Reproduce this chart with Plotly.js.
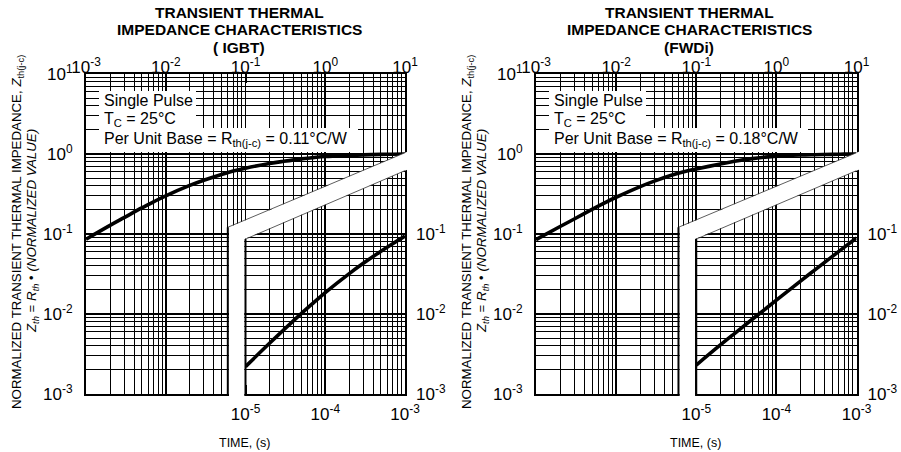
<!DOCTYPE html>
<html>
<head>
<meta charset="utf-8">
<script src="https://cdn.plot.ly/plotly-3.0.1.min.js"></script>
<style>html,body{margin:0;padding:0;background:#fff}#chart{width:901px;height:452px}</style>
</head>
<body>
<div id="chart"></div>
<script>
// ---------------- DATA ----------------
const panelNames = ['IGBT', 'FWDi'];
const titleLines = [
  ['TRANSIENT THERMAL', 'IMPEDANCE CHARACTERISTICS', '( IGBT)'],
  ['TRANSIENT THERMAL', 'IMPEDANCE CHARACTERISTICS', '(FWDi)']
];
const rthText = ['0.11°C/W', '0.18°C/W'];

// main time axis (s) 1e-3 .. 1e1
const timeMain = [1e-3, 2e-3, 3e-3, 5e-3, 7e-3, 1e-2, 2e-2, 3e-2, 5e-2, 7e-2,
                  1e-1, 2e-1, 3e-1, 5e-1, 7e-1, 1, 2, 3, 5, 7, 10];
const zthIGBT = [0.086, 0.128, 0.160, 0.212, 0.252, 0.300, 0.405, 0.470, 0.555, 0.612,
                 0.665, 0.760, 0.810, 0.870, 0.900, 0.930, 0.960, 0.975, 0.988, 0.994, 1.0];
const zthFWDi = [0.085, 0.124, 0.154, 0.203, 0.242, 0.288, 0.392, 0.458, 0.545, 0.600,
                 0.650, 0.750, 0.810, 0.875, 0.910, 0.940, 0.970, 0.980, 0.990, 0.995, 1.0];

// inset time axis (s) 1e-5 .. 1e-3
const timeInset = [1e-5, 2e-5, 3e-5, 5e-5, 7e-5, 1e-4, 2e-4, 3e-4, 5e-4, 7e-4, 1e-3];
const zthIGBTinset = [0.0022, 0.0043, 0.0063, 0.0101, 0.0136, 0.0185, 0.032, 0.043, 0.061, 0.0755, 0.094];
const zthFWDiinset = [0.0023, 0.0041, 0.0057, 0.0086, 0.0112, 0.0149, 0.0258, 0.0354, 0.0525, 0.068, 0.089];

// tick exponents
const mainXExp = [-3, -2, -1, 0, 1];
const mainYExp = [-3, -2, -1, 0, 1];
const insetXExp = [-5, -4, -3];
const insetYExp = [-3, -2, -1];
const minorDigits = [2, 3, 4, 5, 6, 7, 8, 9];

// ---------------- HELPERS ----------------
const W = 901, H = 452;
const fx = p => p / W;
const fy = p => 1 - p / H;
const decVals = e => e.map(v => Math.pow(10, v));
const decText = e => e.map(v => '10<sup>' + v + '</sup>');
const minorVals = e => {
  const out = [];
  for (let i = 0; i < e.length - 1; i++) minorDigits.forEach(d => out.push(d * Math.pow(10, e[i])));
  return out;
};

const FONT = 'Liberation Sans, Arial, Helvetica, sans-serif';
const plotLeft = [86, 536], plotRight = [405, 856.5], plotTop = 74, plotBottom = 394;

const data = [];
const layout = {
  width: W, height: H,
  margin: {l: 0, r: 0, t: 0, b: 0},
  paper_bgcolor: '#fff', plot_bgcolor: 'rgba(0,0,0,0)',
  showlegend: false,
  font: {family: FONT, color: '#000'},
  annotations: [], shapes: []
};

const zMain = [zthIGBT, zthFWDi];
const zInset = [zthIGBTinset, zthFWDiinset];

for (let p = 0; p < 2; p++) {
  const off = p * 450;
  const xm = p === 0 ? 'x' : 'x2', ym = p === 0 ? 'y' : 'y2';
  const xi = p === 0 ? 'x3' : 'x4', yi = p === 0 ? 'y3' : 'y4';
  const xd = [fx(plotLeft[p]), fx(plotRight[p])];
  const yd = [fy(plotBottom), fy(plotTop)];
  const xw = xd[1] - xd[0], yh = yd[1] - yd[0];

  const common = {
    type: 'log', zeroline: false, fixedrange: true,
    tickfont: {family: FONT, size: 17, color: '#000'}
  };
  layout['xaxis' + (p === 0 ? '' : '2')] = Object.assign({}, common, {
    range: [-3, 1], domain: xd, anchor: ym, side: 'top',
    tickmode: 'array', tickvals: decVals(mainXExp), ticktext: decText(mainXExp),
    ticks: 'inside', ticklen: 9, tickwidth: 2, tickcolor: '#000', ticklabelstandoff: -8,
    showline: true, linewidth: 2, linecolor: '#000', mirror: 'ticks',
    showgrid: true, gridcolor: '#000', gridwidth: 1.8,
    minor: {tickmode: 'array', tickvals: minorVals(mainXExp), showgrid: true, gridcolor: '#000', gridwidth: 1, ticks: ''}
  });
  layout['yaxis' + (p === 0 ? '' : '2')] = Object.assign({}, common, {
    range: [-3, 1], domain: yd, anchor: xm, side: 'left',
    tickmode: 'array', tickvals: decVals(mainYExp), ticktext: decText(mainYExp),
    ticks: 'inside', ticklen: 9, tickwidth: 2, tickcolor: '#000', ticklabelstandoff: 8,
    showline: true, linewidth: 2, linecolor: '#000', mirror: 'ticks',
    showgrid: true, gridcolor: '#000', gridwidth: 1.8,
    minor: {tickmode: 'array', tickvals: minorVals(mainYExp), showgrid: true, gridcolor: '#000', gridwidth: 1, ticks: ''}
  });
  layout['xaxis' + (p === 0 ? '3' : '4')] = Object.assign({}, common, {
    range: [-5, -3], domain: [xd[0] + xw * 0.5, xd[1]], anchor: yi, side: 'bottom',
    tickmode: 'array', tickvals: decVals(insetXExp), ticktext: decText(insetXExp),
    ticks: '', showline: false, showgrid: false, ticklabelstandoff: 8
  });
  layout['yaxis' + (p === 0 ? '3' : '4')] = Object.assign({}, common, {
    range: [-3, -1], domain: [yd[0], yd[0] + yh * 0.5], anchor: xi, side: 'right',
    tickmode: 'array', tickvals: decVals(insetYExp), ticktext: decText(insetYExp),
    ticks: '', showline: false, showgrid: false, ticklabelstandoff: 10
  });

  data.push({x: timeMain, y: zMain[p], xaxis: xm, yaxis: ym, mode: 'lines',
             line: {color: '#000', width: 3.6, shape: 'spline'}, hoverinfo: 'skip'});
  data.push({x: timeInset, y: zInset[p], xaxis: xi, yaxis: yi, mode: 'lines',
             line: {color: '#000', width: 3.6, shape: 'spline'}, hoverinfo: 'skip'});

  // plot-fraction -> paper
  const PU = u => xd[0] + u * xw;
  const PV = v => yd[0] + v * yh;
  const uSix = (Math.log10(0.06) + 3) / 4;   // 6e-2 grid line
  const uTen = 0.5;                           // 1e-1 grid line
  const vB = 0.521, vC = 0.754, vD = 0.698, vE = 0.484;
  const eps = 1.2 / (xw * W);

  // white note boxes
  layout.shapes.push({type: 'rect', xref: 'paper', yref: 'paper', layer: 'above',
    x0: fx(99 + off), x1: fx(196 + off), y0: fy(91), y1: fy(129), fillcolor: '#fff', line: {width: 0}});
  layout.shapes.push({type: 'rect', xref: 'paper', yref: 'paper', layer: 'above',
    x0: fx(99 + off), x1: fx(358 + off), y0: fy(128), y1: fy(152), fillcolor: '#fff', line: {width: 0}});

  // white break band
  const path = 'M' + PU(uSix + eps) + ',' + PV(-0.02) +
               ' L' + PU(uSix + eps) + ',' + PV(vB) +
               ' L' + PU(1.02) + ',' + PV(vC + (vC - vB) * 0.02 / (1 - uSix)) +
               ' L' + PU(1.02) + ',' + PV(vD + (vD - vE) * 0.02 / (1 - uTen)) +
               ' L' + PU(uTen - eps) + ',' + PV(vE) +
               ' L' + PU(uTen - eps) + ',' + PV(-0.02) + ' Z';
  layout.shapes.push({type: 'path', xref: 'paper', yref: 'paper', layer: 'above',
    path: path, fillcolor: '#fff', line: {width: 0}});
  // band edges
  layout.shapes.push({type: 'line', xref: 'paper', yref: 'paper', layer: 'above',
    x0: PU(uSix), y0: PV(vB), x1: PU(1), y1: PV(vC), line: {color: '#333', width: 0.8}});
  layout.shapes.push({type: 'line', xref: 'paper', yref: 'paper', layer: 'above',
    x0: PU(uTen), y0: PV(vE), x1: PU(1), y1: PV(vD), line: {color: '#333', width: 0.8}});
  layout.shapes.push({type: 'line', xref: 'paper', yref: 'paper', layer: 'above',
    x0: PU(uSix), y0: PV(0) - 1 / H, x1: PU(uSix), y1: PV(vB), line: {color: '#000', width: 2}});
  layout.shapes.push({type: 'line', xref: 'paper', yref: 'paper', layer: 'above',
    x0: PU(uTen), y0: PV(0) - 1 / H, x1: PU(uTen), y1: PV(vE), line: {color: '#000', width: 2}});

  // titles
  const tcx = 239 + off;
  [13, 30, 47].forEach((ty, i) => {
    layout.annotations.push({xref: 'paper', yref: 'paper', x: fx(tcx), y: fy(ty),
      xanchor: 'center', yanchor: 'middle', showarrow: false,
      text: '<b>' + titleLines[p][i] + '</b>', font: {family: FONT, size: 15.5, color: '#000'}});
  });

  // note texts
  const noteFont = {family: FONT, size: 16, color: '#000'};
  layout.annotations.push({xref: 'paper', yref: 'paper', x: fx(102 + off), y: fy(101),
    xanchor: 'left', yanchor: 'middle', showarrow: false, text: 'Single Pulse', font: noteFont});
  layout.annotations.push({xref: 'paper', yref: 'paper', x: fx(102 + off), y: fy(120),
    xanchor: 'left', yanchor: 'middle', showarrow: false, text: 'T<sub>C</sub> = 25°C', font: noteFont});
  layout.annotations.push({xref: 'paper', yref: 'paper', x: fx(102 + off), y: fy(139),
    xanchor: 'left', yanchor: 'middle', showarrow: false,
    text: 'Per Unit Base = R<sub>th(j-c)</sub> = ' + rthText[p], font: noteFont});

  // y titles
  const yFont = {family: FONT, size: 13.3, color: '#000'};
  layout.annotations.push({xref: 'paper', yref: 'paper', x: fx(17 + off), y: fy(232),
    xanchor: 'center', yanchor: 'middle', showarrow: false, textangle: -90,
    text: 'NORMALIZED TRANSIENT THERMAL IMPEDANCE, <i>Z</i><sub>th(j-c)</sub>', font: yFont});
  layout.annotations.push({xref: 'paper', yref: 'paper', x: fx(33 + off), y: fy(231),
    xanchor: 'center', yanchor: 'middle', showarrow: false, textangle: -90,
    text: '<i>Z<sub>th</sub></i> = <i>R<sub>th</sub></i> • <i>(NORMALIZED VALUE)</i>', font: yFont});

  // x title
  layout.annotations.push({xref: 'paper', yref: 'paper', x: fx(245 + off), y: fy(443),
    xanchor: 'center', yanchor: 'middle', showarrow: false,
    text: 'TIME, (s)', font: {family: FONT, size: 12.5, color: '#000'}});
}

Plotly.newPlot('chart', data, layout, {displayModeBar: false, staticPlot: true});
</script>
</body>
</html>
